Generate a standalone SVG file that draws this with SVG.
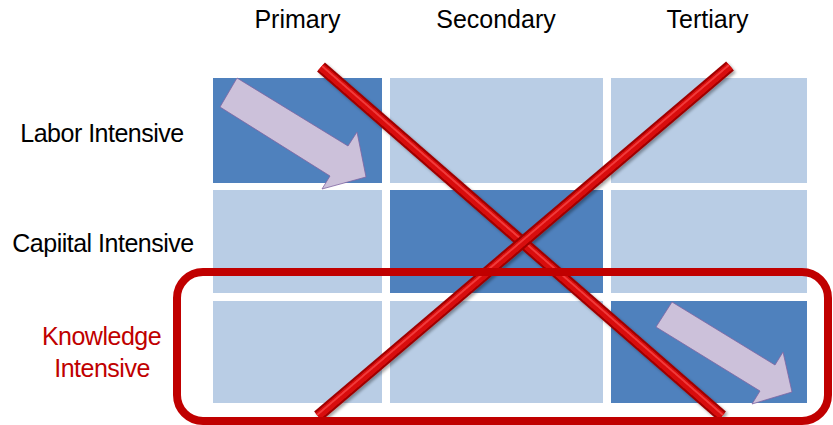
<svg xmlns="http://www.w3.org/2000/svg" width="833" height="425" viewBox="0 0 833 425">
<defs>
<style>
.lbl{font-family:"Liberation Sans",Arial,sans-serif;font-size:25px;fill:#000;text-anchor:middle}
.row{letter-spacing:-0.5px}
.dark{fill:#4F81BD}
.light{fill:#B9CDE5}
.arr{fill:#CCC1DA;stroke:#8064A2;stroke-width:0.8}
.xo{stroke:#9E0000;stroke-width:12;fill:none}
.xm{stroke:#D80A0A;stroke-width:8;fill:none}
.xh{stroke:#F03A3A;stroke-width:2;fill:none}
</style>
<filter id="sh" x="-10%" y="-10%" width="120%" height="120%">
<feDropShadow dx="2" dy="2" stdDeviation="1.5" flood-color="#000" flood-opacity="0.35"/>
</filter>
</defs>
<g id="headers">
<text class="lbl" x="297.5" y="28">Primary</text>
<text class="lbl" x="496" y="28">Secondary</text>
<text class="lbl" x="707.5" y="28">Tertiary</text>
</g>
<g id="row-labels">
<text class="lbl row" x="102" y="142">Labor Intensive</text>
<text class="lbl row" x="103" y="252">Capiital Intensive</text>
<text class="lbl row" x="101.5" y="345" style="fill:#C00000">Knowledge</text>
<text class="lbl row" x="102" y="377" style="fill:#C00000">Intensive</text>
</g>
<g id="grid">
<rect id="c11" class="dark" x="213" y="78" width="169" height="105"/>
<rect id="c12" class="light" x="390" y="78" width="213" height="105"/>
<rect id="c13" class="light" x="611" y="78" width="196" height="105"/>
<rect id="c21" class="light" x="213" y="190" width="169" height="103"/>
<rect id="c22" class="dark" x="390" y="190" width="213" height="103"/>
<rect id="c23" class="light" x="611" y="190" width="196" height="103"/>
<rect id="c31" class="light" x="213" y="301" width="169" height="102"/>
<rect id="c32" class="light" x="390" y="301" width="213" height="102"/>
<rect id="c33" class="dark" x="611" y="301" width="196" height="102"/>
</g>
<g id="arrows">
<polygon class="arr" points="220,107 237,78 348,146 357,132 366,177 322,189 330,176"/>
<polygon class="arr" points="656,327 672,302 775,365 783,352 792,392 752,404 760,391"/>
</g>
<g id="cross" filter="url(#sh)">
<g>
<line class="xo" x1="321" y1="67" x2="722" y2="416"/>
<line class="xm" x1="321" y1="67" x2="722" y2="416"/>
<line class="xh" x1="322" y1="66" x2="723" y2="415"/>
</g>
<g>
<line class="xo" x1="730" y1="66" x2="318" y2="416"/>
<line class="xm" x1="730" y1="66" x2="318" y2="416"/>
<line class="xh" x1="729" y1="65" x2="317" y2="415"/>
</g>
</g>
<g id="highlight">
<rect x="177" y="272" width="651" height="149" rx="26" ry="26" fill="none" stroke="#C00000" stroke-width="8"/>
</g>
</svg>
